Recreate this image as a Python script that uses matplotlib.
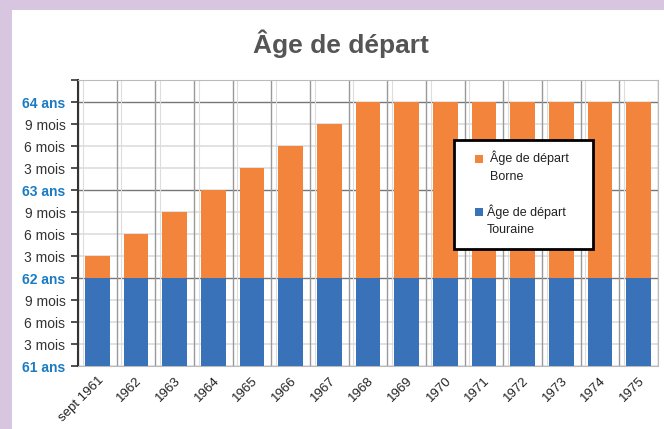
import matplotlib
matplotlib.use('Agg')
import matplotlib.pyplot as plt
from matplotlib.patches import Rectangle

# data: departure age (years) per generation
generations = ["sept 1961", "1962", "1963", "1964", "1965", "1966", "1967",
               "1968", "1969", "1970", "1971", "1972", "1973", "1974", "1975"]
age_touraine = [62] * 15
age_borne = [62.25, 62.5, 62.75, 63, 63.25, 63.5, 63.75,
             64, 64, 64, 64, 64, 64, 64, 64]
y_ticks = [61, 61.25, 61.5, 61.75, 62, 62.25, 62.5, 62.75,
           63, 63.25, 63.5, 63.75, 64, 64.25]
y_labels = ["61 ans", "3 mois", "6 mois", "9 mois", "62 ans", "3 mois", "6 mois",
            "9 mois", "63 ans", "3 mois", "6 mois", "9 mois", "64 ans", ""]

plt.rcParams['font.family'] = ['Liberation Sans', 'DejaVu Sans']

ORANGE = '#f2843c'
BLUE = '#3a72b9'
W, H = 664, 429

fig = plt.figure(figsize=(W / 100, H / 100), dpi=100)
fig.patch.set_facecolor('white')
# purple frame on left and top
fig.patches.append(Rectangle((0, 0), 12 / W, 1, transform=fig.transFigure,
                             facecolor='#d8c6e0', edgecolor='none', zorder=0))
fig.patches.append(Rectangle((0, 1 - 10 / H), 1, 10 / H, transform=fig.transFigure,
                             facecolor='#d8c6e0', edgecolor='none', zorder=0))

ax = fig.add_axes([78 / W, (H - 366) / H, (658 - 78) / W, (366 - 80) / H])

x = range(len(generations))
base = 61
ax.bar(x, [t - base for t in age_touraine], bottom=base, width=0.64,
       color=BLUE, zorder=3)
ax.bar(x, [b - t for b, t in zip(age_borne, age_touraine)], bottom=age_touraine,
       width=0.64, color=ORANGE, zorder=3)

ax.set_xlim(-0.5, len(generations) - 0.5)
ax.set_ylim(61, 64.25)

# grid: light for months, darker for years, vertical at category edges
for v in y_ticks:
    major = float(v).is_integer()
    ax.axhline(v, color='#777777' if major else '#dddddd',
               lw=1.0 if major else 1.2, zorder=1)
for i in range(len(generations) + 1):
    ax.axvline(i - 0.5, color='#999999', lw=1.0, zorder=1)
    ax.axvline(i - 0.5 + 0.12, color='#dddddd', lw=0.8, zorder=1)

ax.set_yticks(y_ticks)
ax.set_yticklabels(y_labels)
for lab, v in zip(ax.get_yticklabels(), y_ticks):
    if float(v).is_integer():
        lab.set_color('#1b7bc2')
        lab.set_fontweight('bold')
    else:
        lab.set_color('#333333')
    lab.set_fontsize(10)

ax.set_xticks(list(x))
ax.set_xticklabels(generations, rotation=45, ha='right', rotation_mode='anchor',
                   fontsize=9.5, color='#222222')
ax.tick_params(axis='x', length=0, pad=6)
ax.tick_params(axis='y', length=5, width=1.2, color='#333333', pad=4)

for s in ['top', 'right']:
    ax.spines[s].set_color('#bbbbbb')
ax.spines['bottom'].set_color('#bbbbbb')
ax.spines['left'].set_color('#333333')
ax.spines['left'].set_linewidth(1.5)

fig.text(341 / W, 1 - 44 / H, "Âge de départ", ha='center', va='center',
         fontsize=19, fontweight='bold', color='#555555')

# legend box
fig.patches.append(Rectangle((454 / W, 1 - 249 / H), 139 / W, 109 / H,
                             transform=fig.transFigure, facecolor='white',
                             edgecolor='black', lw=2, zorder=5))
fig.patches.append(Rectangle((475 / W, 1 - 163 / H), 8 / W, 8 / H,
                             transform=fig.transFigure, facecolor=ORANGE,
                             edgecolor='none', zorder=6))
fig.patches.append(Rectangle((475 / W, 1 - 216 / H), 8 / W, 8 / H,
                             transform=fig.transFigure, facecolor=BLUE,
                             edgecolor='none', zorder=6))
fig.text(490 / W, 1 - 158 / H, "Âge de départ", fontsize=9, color='#222222',
         va='center', zorder=7)
fig.text(490 / W, 1 - 177 / H, "Borne", fontsize=9, color='#222222',
         va='center', zorder=7)
fig.text(487 / W, 1 - 212 / H, "Âge de départ", fontsize=9, color='#222222',
         va='center', zorder=7)
fig.text(487 / W, 1 - 230 / H, "Touraine", fontsize=9, color='#222222',
         va='center', zorder=7)

fig.savefig('out.png', dpi=100)
